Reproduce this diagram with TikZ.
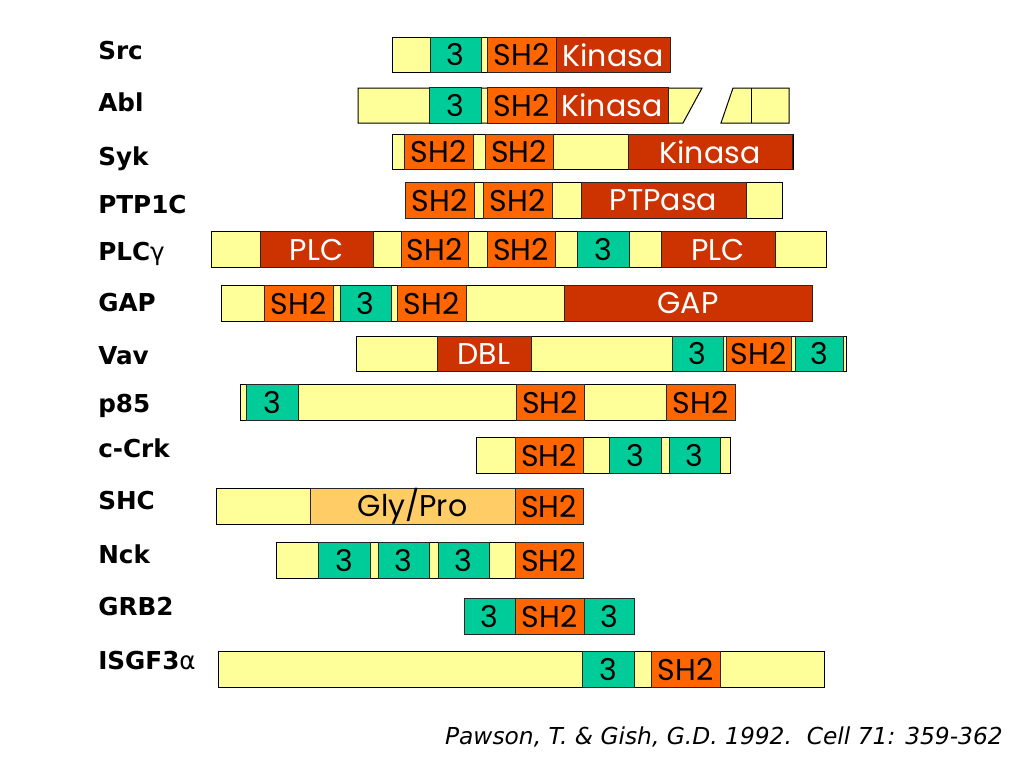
\documentclass[tikz,border=0pt]{standalone}
\usepackage{fontspec}
\setmainfont{DejaVu Sans}
\newfontfamily\boxfont{Poppins}
\usetikzlibrary{positioning}

\definecolor{backbone}{HTML}{FFFF99}
\definecolor{shthree}{HTML}{00CC99}
\definecolor{shtwo}{HTML}{FF6600}
\definecolor{catalytic}{HTML}{CC3300}
\definecolor{glypro}{HTML}{FFCC66}

\tikzstyle{bar}=[
	rectangle,
	draw=black,
	fill=backbone,
	line width=0.75pt,
	inner sep=0pt,
	minimum height=26.6pt
	]
\tikzstyle{dom}=[bar, draw=black!85, font=\boxfont\fontsize{22.5}{22.5}\selectfont]
\tikzstyle{sh3}=[dom, fill=shthree]
\tikzstyle{sh2}=[dom, fill=shtwo]
\tikzstyle{enzyme}=[dom, fill=catalytic, text=white]
\tikzstyle{linker}=[dom, fill=glypro]
\tikzstyle{protein}=[anchor=base west, inner sep=0pt, font=\bfseries\fontsize{18.5}{18.5}\selectfont]

\newcommand{\domainbox}[6]{\node (#1) [#2, minimum width={(#4-#3)*0.75pt}] at ({(#3+#4)/2},#5) {#6};}

\begin{document}
\begin{tikzpicture}[x=0.75pt, y=-0.75pt]

	\useasboundingbox (0,0) rectangle (1024,768);

	\foreach \txt/\ypos [count=\i] in {Src/59, Abl/111, Syk/165, PTP1C/213, {PLC{\mdseries γ}}/260, GAP/311, Vav/364, p85/412, c-Crk/457, SHC/509, Nck/563, GRB2/615, {ISGF3{\mdseries α}}/669}
		\node (name\i) [protein] at (98,\ypos) {\txt};

	\domainbox{SrcBar}{bar}{392}{670}{55}{}
	\domainbox{SrcSHiii}{sh3}{430}{481}{55}{3}
	\domainbox{SrcSHii}{sh2}{487}{556}{55}{SH2}
	\domainbox{SrcKin}{enzyme}{556}{670}{55}{Kinasa}

	\draw[line width=0.75pt, fill=backbone] (358,88) -- (702,88) -- (683,123) -- (358,123) -- cycle;
	\draw[line width=0.75pt, fill=backbone] (733,88) -- (789,88) -- (789,123) -- (721,123) -- cycle;
	\draw[line width=0.75pt] (751,88) -- (751,123);
	\domainbox{AblSHiii}{sh3}{429}{481}{105.5}{3}
	\domainbox{AblSHii}{sh2}{487}{556}{105.5}{SH2}
	\domainbox{AblKin}{enzyme}{556}{668}{105.5}{Kinasa}

	\domainbox{SykBar}{bar}{392}{793}{152}{}
	\domainbox{SykSHiiA}{sh2}{404}{473}{152}{SH2}
	\domainbox{SykSHiiB}{sh2}{485}{553}{152}{SH2}
	\domainbox{SykKin}{enzyme}{628}{792}{152}{Kinasa}

	\domainbox{PtpBar}{bar}{405}{782}{200.5}{}
	\domainbox{PtpSHiiA}{sh2}{405}{474}{200.5}{SH2}
	\domainbox{PtpSHiiB}{sh2}{483}{552}{200.5}{SH2}
	\domainbox{PtpCat}{enzyme}{581}{746}{200.5}{PTPasa}

	\domainbox{PlcBar}{bar}{211}{826}{249.5}{}
	\domainbox{PlcCatA}{enzyme}{260}{373}{249.5}{PLC}
	\domainbox{PlcSHiiA}{sh2}{401}{468}{249.5}{SH2}
	\domainbox{PlcSHiiB}{sh2}{487}{555}{249.5}{SH2}
	\domainbox{PlcSHiii}{sh3}{577}{629}{249.5}{3}
	\domainbox{PlcCatB}{enzyme}{661}{775}{249.5}{PLC}

	\domainbox{GapBar}{bar}{221}{812}{303.5}{}
	\domainbox{GapSHiiA}{sh2}{264}{333}{303.5}{SH2}
	\domainbox{GapSHiii}{sh3}{340}{391}{303.5}{3}
	\domainbox{GapSHiiB}{sh2}{397}{466}{303.5}{SH2}
	\domainbox{GapCat}{enzyme}{564}{812}{303.5}{GAP}

	\domainbox{VavBar}{bar}{356}{846}{354}{}
	\domainbox{VavDbl}{enzyme}{437}{531}{354}{DBL}
	\domainbox{VavSHiiiA}{sh3}{672}{723}{354}{3}
	\domainbox{VavSHii}{sh2}{726}{791}{354}{SH2}
	\domainbox{VavSHiiiB}{sh3}{795}{843}{354}{3}

	\domainbox{PeaBar}{bar}{240}{735}{402.5}{}
	\domainbox{PeaSHiii}{sh3}{246}{298}{402.5}{3}
	\domainbox{PeaSHiiA}{sh2}{516}{584}{402.5}{SH2}
	\domainbox{PeaSHiiB}{sh2}{666}{735}{402.5}{SH2}

	\domainbox{CrkBar}{bar}{476}{730}{455.5}{}
	\domainbox{CrkSHii}{sh2}{515}{583}{455.5}{SH2}
	\domainbox{CrkSHiiiA}{sh3}{609}{661}{455.5}{3}
	\domainbox{CrkSHiiiB}{sh3}{669}{720}{455.5}{3}

	\domainbox{ShcBar}{bar}{216}{583}{506.5}{}
	\domainbox{ShcGly}{linker}{310}{515}{506.5}{Gly/Pro}
	\domainbox{ShcSHii}{sh2}{515}{583}{506.5}{SH2}

	\domainbox{NckBar}{bar}{276}{583}{560.5}{}
	\domainbox{NckSHiiiA}{sh3}{318}{370}{560.5}{3}
	\domainbox{NckSHiiiB}{sh3}{378}{429}{560.5}{3}
	\domainbox{NckSHiiiC}{sh3}{438}{489}{560.5}{3}
	\domainbox{NckSHii}{sh2}{515}{583}{560.5}{SH2}

	\domainbox{GrbBar}{bar}{464}{634}{616.5}{}
	\domainbox{GrbSHiiiA}{sh3}{464}{515}{616.5}{3}
	\domainbox{GrbSHii}{sh2}{515}{584}{616.5}{SH2}
	\domainbox{GrbSHiiiB}{sh3}{584}{634}{616.5}{3}

	\domainbox{IsgBar}{bar}{218}{824}{669.5}{}
	\domainbox{IsgSHiii}{sh3}{582}{634}{669.5}{3}
	\domainbox{IsgSHii}{sh2}{651}{720}{669.5}{SH2}

	\node (cite) [anchor=base east, inner sep=0pt, font=\itshape\fontsize{17.5}{17.5}\selectfont] at (1003,744) {Pawson, T. \& Gish, G.D. 1992.\ \ Cell 71: 359-362};

\end{tikzpicture}
\end{document}
